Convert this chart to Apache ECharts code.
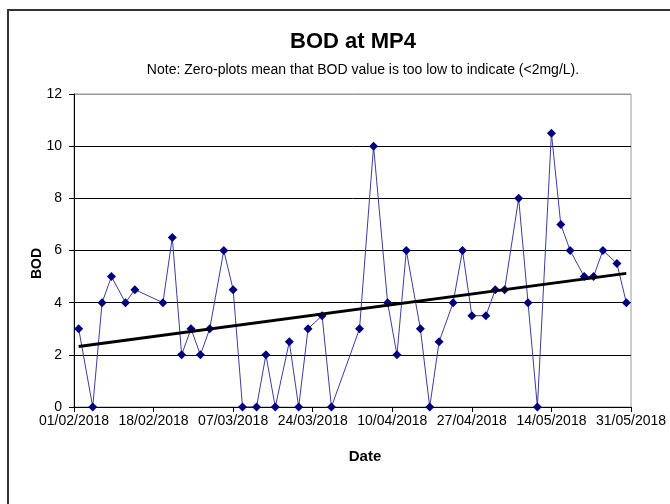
<!DOCTYPE html>
<html>
<head>
<meta charset="utf-8">
<script src="https://cdn.jsdelivr.net/npm/echarts@6/dist/echarts.min.js"></script>
<style>
  html, body { margin: 0; padding: 0; background: #fff; }
  #chart { width: 670px; height: 504px; }
</style>
</head>
<body>
<div id="chart"></div>
<script>
// sample dates (dd/mm/yyyy) and BOD readings
var sampleDates = [
  '02/02/2018', '05/02/2018', '07/02/2018', '09/02/2018', '12/02/2018', '14/02/2018',
  '20/02/2018', '22/02/2018', '24/02/2018', '26/02/2018', '28/02/2018', '02/03/2018',
  '05/03/2018', '07/03/2018', '09/03/2018', '12/03/2018', '14/03/2018', '16/03/2018',
  '19/03/2018', '21/03/2018', '23/03/2018', '26/03/2018', '28/03/2018', '03/04/2018',
  '06/04/2018', '09/04/2018', '11/04/2018', '13/04/2018', '16/04/2018', '18/04/2018',
  '20/04/2018', '23/04/2018', '25/04/2018', '27/04/2018', '30/04/2018', '02/05/2018',
  '04/05/2018', '07/05/2018', '09/05/2018', '11/05/2018', '14/05/2018', '16/05/2018',
  '18/05/2018', '21/05/2018', '23/05/2018', '25/05/2018', '28/05/2018', '30/05/2018'
];
var bodValues = [
  3, 0, 4, 5, 4, 4.5,
  4, 6.5, 2, 3, 2, 3,
  6, 4.5, 0, 0, 2, 0,
  2.5, 0, 3, 3.5, 0, 3,
  10, 4, 2, 6, 3, 0,
  2.5, 4, 6, 3.5, 3.5, 4.5,
  4.5, 8, 4, 0, 10.5, 7,
  6, 5, 5, 6, 5.5, 4
];
var startDate = '01/02/2018';
var endDate = '31/05/2018';
var tickStepDays = 17;

var DAY = 86400000;
function parseDate(s) {
  var p = s.split('/');
  return Date.UTC(+p[2], +p[1] - 1, +p[0]);
}
var t0 = parseDate(startDate);
function dayOf(s) { return Math.round((parseDate(s) - t0) / DAY); }
function pad(n) { return (n < 10 ? '0' : '') + n; }
function fmtDay(d) {
  var dt = new Date(t0 + d * DAY);
  return pad(dt.getUTCDate()) + '/' + pad(dt.getUTCMonth() + 1) + '/' + dt.getUTCFullYear();
}

var points = sampleDates.map(function (s, i) { return [dayOf(s), bodValues[i]]; });

// linear trend (least squares)
var n = points.length, sx = 0, sy = 0, sxx = 0, sxy = 0;
points.forEach(function (p) { sx += p[0]; sy += p[1]; sxx += p[0] * p[0]; sxy += p[0] * p[1]; });
var slope = (n * sxy - sx * sy) / (n * sxx - sx * sx);
var icpt = (sy - slope * sx) / n;
var firstX = points[0][0], lastX = points[n - 1][0];
var trend = [[firstX, icpt + slope * firstX], [lastX, icpt + slope * lastX]];

var myChart = echarts.init(document.getElementById('chart'));

var option = {
  animation: false,
  backgroundColor: '#fff',
  textStyle: { fontFamily: 'Liberation Sans, Arial, sans-serif' },
  graphic: [{
    type: 'rect',
    shape: { x: 8, y: 10, width: 720, height: 540 },
    style: { fill: 'none', stroke: '#333', lineWidth: 2 },
    silent: true
  }],
  title: [{
    text: 'BOD at MP4',
    left: 348, top: 26, textAlign: 'center',
    textStyle: { fontSize: 22, fontWeight: 'bold', color: '#000', fontFamily: 'Liberation Sans' }
  }, {
    text: 'Note: Zero-plots mean that BOD value is too low to indicate (<2mg/L).',
    left: 358, top: 58, textAlign: 'center',
    textStyle: { fontSize: 14, fontWeight: 'normal', color: '#000', fontFamily: 'Liberation Sans' }
  }],
  grid: {
    left: 74, right: 39, top: 94, bottom: 97,
    show: true, borderColor: '#999', borderWidth: 1, backgroundColor: '#fff'
  },
  xAxis: {
    type: 'value',
    min: 0, max: dayOf(endDate), interval: tickStepDays,
    name: 'Date', nameLocation: 'middle', nameGap: 42,
    nameTextStyle: { fontSize: 15, fontWeight: 'bold', color: '#000', padding: [0, 0, 0, 25] },
    axisLine: { lineStyle: { color: '#000', width: 1 } },
    axisTick: { show: true, inside: false, length: 5, lineStyle: { color: '#000' } },
    axisLabel: { fontSize: 14, color: '#000', margin: 7, formatter: fmtDay },
    splitLine: { show: false }
  },
  yAxis: {
    type: 'value',
    min: 0, max: 12, interval: 2,
    name: 'BOD', nameLocation: 'middle', nameGap: 30, nameRotate: 90,
    nameMoveOverlap: false,
    nameTextStyle: { fontSize: 14, fontWeight: 'bold', color: '#000', padding: [0, 26, 0, 0] },
    axisLine: { show: true, lineStyle: { color: '#000', width: 1 } },
    axisTick: { show: true, inside: false, length: 5, lineStyle: { color: '#000' } },
    axisLabel: { fontSize: 14, color: '#000', margin: 12 },
    splitLine: { show: true, lineStyle: { color: ['#000', '#000', '#000', '#000', '#000', '#000', '#999'], width: 1 } }
  },
  series: [{
    name: 'BOD',
    type: 'line',
    data: points,
    symbol: 'diamond',
    symbolSize: 9,
    showAllSymbol: true,
    itemStyle: { color: '#00007f' },
    lineStyle: { color: '#3c3ca0', width: 1 },
    z: 3
  }, {
    name: 'Trend',
    type: 'line',
    data: trend,
    symbol: 'none',
    lineStyle: { color: '#000', width: 3 },
    z: 4
  }]
};

myChart.setOption(option);
</script>
</body>
</html>
